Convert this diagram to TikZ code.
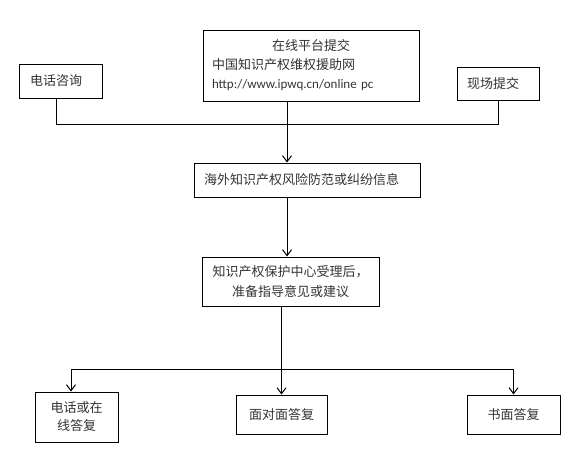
\documentclass[tikz,border=0pt]{standalone}
\usepackage{fontspec}
\setmainfont{Carlito}
\newfontfamily\cjk{Noto Sans CJK SC}
\usetikzlibrary{arrows.meta}
\tikzset{
  box/.style={draw, line width=1pt, inner sep=0pt, text=black!80,
    font=\cjk\fontsize{13pt}{19pt}\selectfont},
  flow/.style={line width=1pt, -{Straight Barb[length=6pt,width=9pt]}}
}
\begin{document}
\begin{tikzpicture}[x=1pt,y=-1pt]
        \useasboundingbox (0,0) rectangle (580,466);
        \node[box, minimum width=216, minimum height=71, text width=198, align=left] (online) at (311,65.5)
          {\makebox[198pt]{在线平台提交}\\中国知识产权维权援助网\\{\rmfamily http://www.ipwq.cn/online pc}};
        \node[box, minimum width=83, minimum height=34, text width=61, align=left] (phone) at (60.5,81) {电话咨询};
        \node[box, minimum width=82, minimum height=33, text width=62, align=left] (onsite) at (498,83.5) {现场提交};
        \node[box, minimum width=226, minimum height=34, text width=206, align=left] (info) at (307,180) {海外知识产权风险防范或纠纷信息};
        \node[box, minimum width=177, minimum height=49, align=center, font=\cjk\fontsize{13pt}{20pt}\selectfont] (center) at (290.5,281.5)
          {知识产权保护中心受理后，\\准备指导意见或建议};
        \node[box, minimum width=83, minimum height=50, align=center, font=\cjk\fontsize{13pt}{18pt}\selectfont] (phoneans) at (76.5,417) {电话或在\\线答复};
        \node[box, minimum width=91, minimum height=39] (face) at (281.5,414.5) {面对面答复};
        \node[box, minimum width=93, minimum height=39] (written) at (513.5,414.5) {书面答复};
        \coordinate (joinL) at (56,124);
        \coordinate (joinM) at (287,124);
        \coordinate (joinR) at (498,124);
        \coordinate (splitL) at (71,369);
        \draw[line width=1pt] (phone.south -| joinL) -- (joinL) -- (joinR) -- (onsite.south);
        \draw[flow] (online.south -| joinM) -- (info.north -| joinM);
        \draw[flow] (info.south -| joinM) -- (center.north -| joinM);
        \draw[flow] (center.south -| face.north) -- (face.north);
        \draw[flow] (splitL) -- (phoneans.north -| splitL);
        \draw[flow] (splitL) -| (written.north);
\end{tikzpicture}
\end{document}
